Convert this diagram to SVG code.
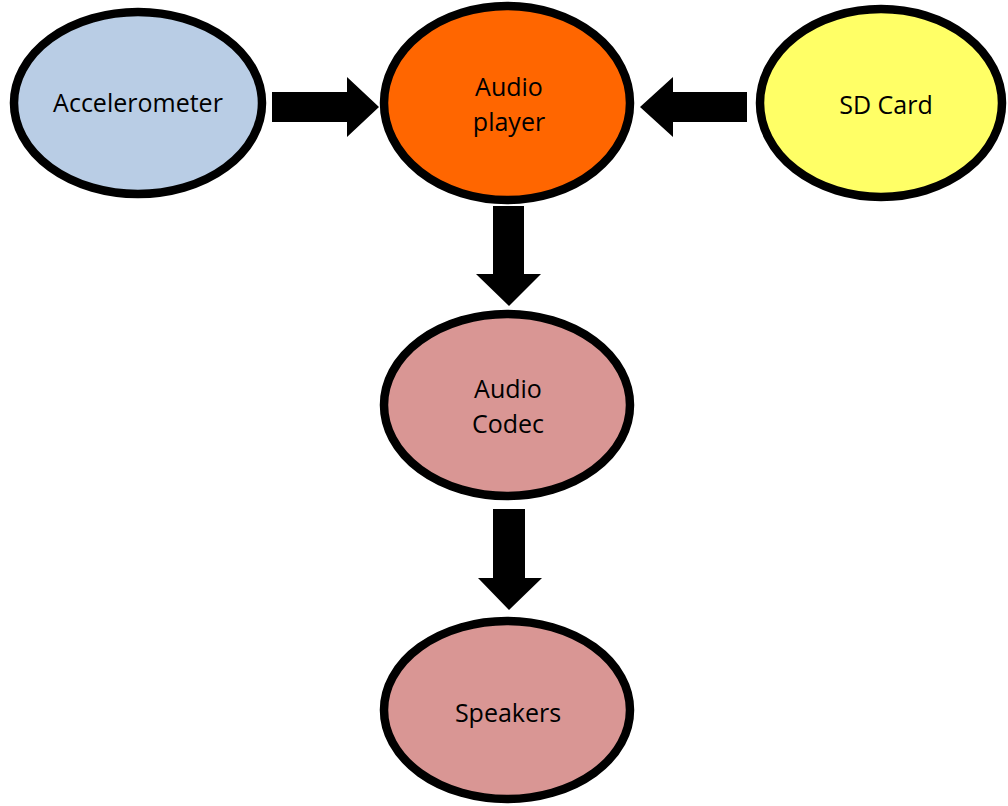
<svg xmlns="http://www.w3.org/2000/svg" width="1008" height="806" viewBox="0 0 1008 806">
<style>
.n{stroke:#000;stroke-width:8.5}
.t{font-family:"Open Sans","Liberation Sans",sans-serif;font-size:25px;fill:#000;text-anchor:middle}
.a{fill:#000}
</style>
<rect width="1008" height="806" fill="#fff"/>
<g id="connectors">
<polygon class="a" points="272,92 347,92 347,77 379,107 347,137 347,122 272,122"/>
<polygon class="a" points="747,92 673,92 673,77 640,107 673,137 673,122 747,122"/>
<polygon class="a" points="493,206 524,206 524,274 541,274 509,306 476,274 493,274"/>
<polygon class="a" points="493,509 525,509 525,578 542,578 509,610 478,578 493,578"/>
</g>
<g id="accelerometer">
<ellipse class="n" cx="138" cy="103" rx="124" ry="91" fill="#B9CDE5"/>
<text class="t" x="138" y="112">Accelerometer</text>
</g>
<g id="audio-player">
<ellipse class="n" cx="507" cy="103" rx="123" ry="97" fill="#FF6600"/>
<text class="t" x="509" y="96">Audio</text>
<text class="t" x="509" y="131">player</text>
</g>
<g id="sd-card">
<ellipse class="n" cx="881" cy="103" rx="121" ry="94" fill="#FFFF66"/>
<text class="t" x="886" y="114">SD Card</text>
</g>
<g id="audio-codec">
<ellipse class="n" cx="507" cy="405" rx="123" ry="91" fill="#D99694"/>
<text class="t" x="508" y="398">Audio</text>
<text class="t" x="508" y="433">Codec</text>
</g>
<g id="speakers">
<ellipse class="n" cx="507" cy="710" rx="123" ry="89" fill="#D99694"/>
<text class="t" x="508" y="722">Speakers</text>
</g>
</svg>
